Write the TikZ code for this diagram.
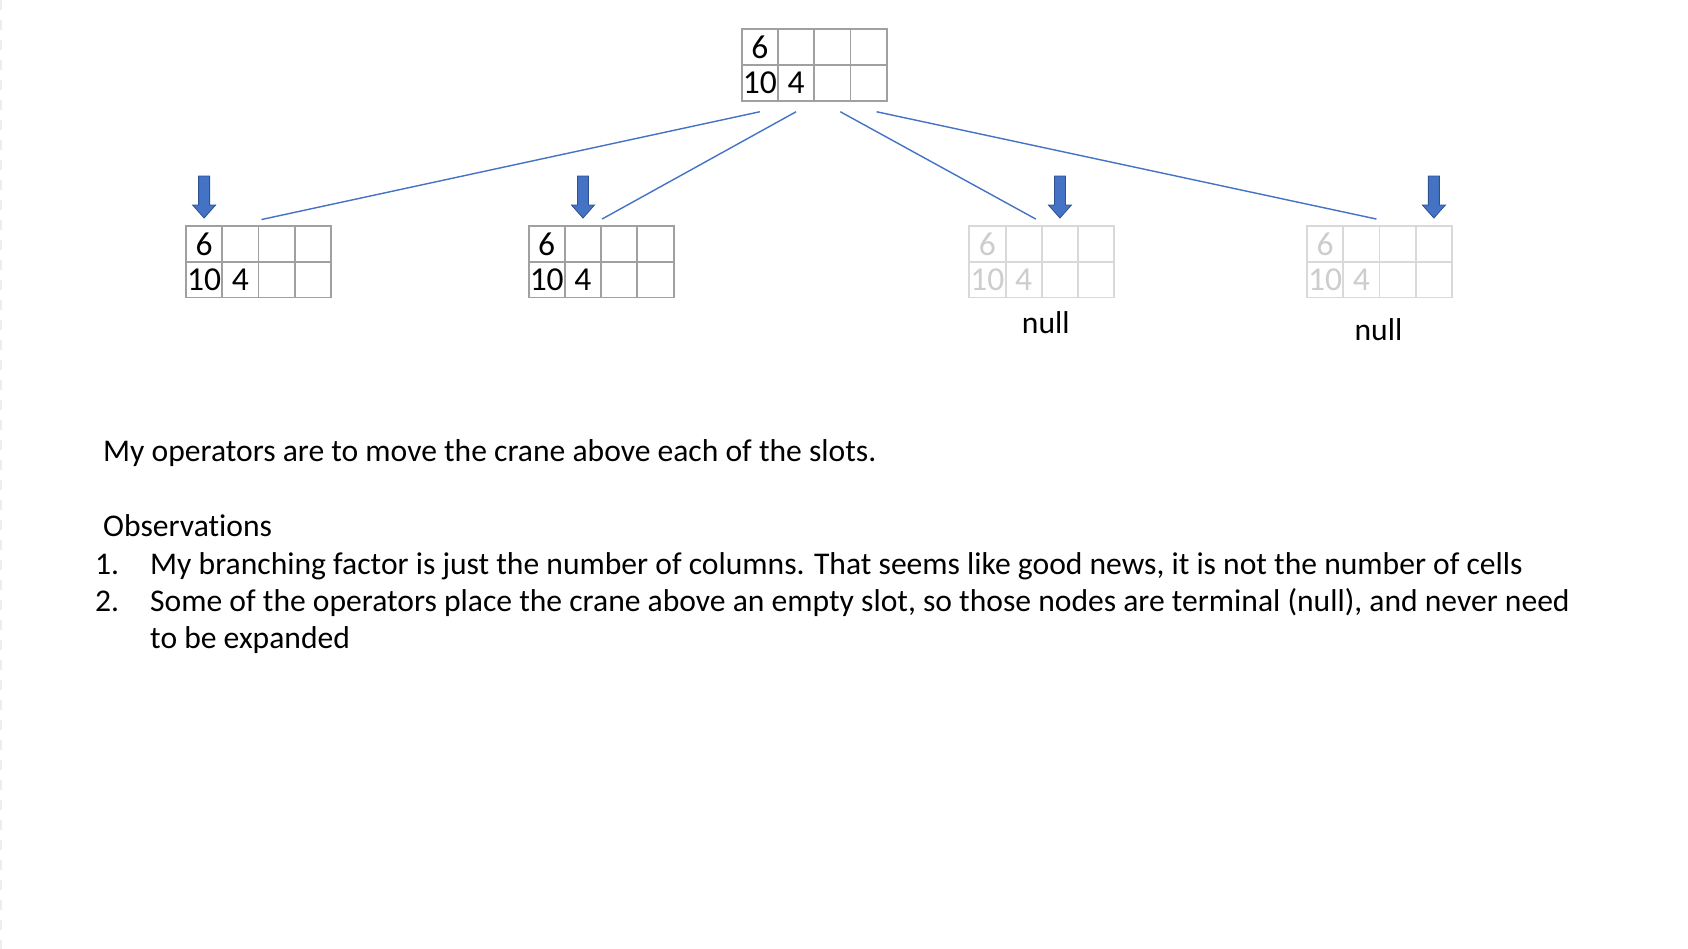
\documentclass[tikz,border=0pt]{standalone}
\usepackage{fontspec}
\setmainfont{Carlito}[Ligatures=NoCommon]
\usetikzlibrary{calc}
\definecolor{gridgray}{RGB}{160,160,160}
\definecolor{fadegray}{RGB}{217,217,217}
\definecolor{fadetext}{RGB}{205,205,205}
\definecolor{linkblue}{RGB}{68,114,196}
\definecolor{arrowedge}{RGB}{47,82,143}
\newcommand{\bigfont}{\fontsize{31.6}{37.5}\selectfont}
\newcommand{\cellfont}{\fontsize{33.5}{37.5}\selectfont}
\tikzset{
  cellbox/.style={draw=#1, line width=1.9pt, minimum width=36.25pt, minimum height=35.75pt,
    inner sep=0pt, anchor=center, font=\cellfont},
  link/.style={draw=linkblue, line width=1.4pt},
  crane/.style={fill=linkblue, draw=arrowedge, line width=0.8pt, line join=miter},
  txt/.style={inner sep=0pt, anchor=base west, font=\bigfont},
}
% name, left x, top y, grid colour, text colour
\newcommand{\cranegrid}[5]{%
  \node[cellbox=#4, text=#5] (#1-1-1) at ({#2+18.125},{#3+17.875}) {6};
  \node[cellbox=#4] (#1-1-2) at ({#2+54.375},{#3+17.875}) {};
  \node[cellbox=#4] (#1-1-3) at ({#2+90.625},{#3+17.875}) {};
  \node[cellbox=#4] (#1-1-4) at ({#2+126.875},{#3+17.875}) {};
  \node[cellbox=#4, text=#5] (#1-2-1) at ({#2+18.125},{#3+53.625}) {10};
  \node[cellbox=#4, text=#5] (#1-2-2) at ({#2+54.375},{#3+53.625}) {4};
  \node[cellbox=#4] (#1-2-3) at ({#2+90.625},{#3+53.625}) {};
  \node[cellbox=#4] (#1-2-4) at ({#2+126.875},{#3+53.625}) {};
}
% down arrow above the given cell
\newcommand{\cranearrow}[1]{%
  \draw[crane] ($(#1.north)+(0,-7)$) -- ++(11.5,-13) -- ++(-6,0) -- ++(0,-29)
    -- ++(-11,0) -- ++(0,29) -- ++(-6,0) -- cycle;
}
\begin{document}
\begin{tikzpicture}[x=1pt,y=-1pt]
\useasboundingbox (0,0) rectangle (1688,949);
\fill[white] (0,0) rectangle (1688,949);
\draw[black!7, line width=1.5pt, dash pattern=on 10pt off 10pt] (0.8,0) -- (0.8,949);

\cranegrid{top}{741.7}{29.3}{gridgray}{black}
\cranegrid{ca}{186}{226}{gridgray}{black}
\cranegrid{cb}{528.6}{226}{gridgray}{black}
\cranegrid{cc}{969.3}{226}{fadegray}{fadetext}
\cranegrid{cd}{1307}{226}{fadegray}{fadetext}

\cranearrow{ca-1-1}
\cranearrow{cb-1-2}
\cranearrow{cc-1-3}
\cranearrow{cd-1-4}

\coordinate (s1) at ($(top-2-1.south)+(0,10)$);
\coordinate (s2) at ($(top-2-2.south)+(0,10)$);
\coordinate (s3) at ($(top-2-3.south)+(8,10)$);
\coordinate (s4) at ($(top-2-4.south)+(8,10)$);
\coordinate (e1) at ($(ca-1-2.north east)+(2,-5.5)$);
\coordinate (e2) at ($(cb-1-2.north east)+(0,-6)$);
\coordinate (e3) at ($(cc-1-2.north east)+(-7,-6)$);
\coordinate (e4) at ($(cd-1-2.north east)+(-4,-6)$);
\draw[link] (s1) -- (e1);
\draw[link] (s2) -- (e2);
\draw[link] (s3) -- (e3);
\draw[link] (s4) -- (e4);

\node[txt, anchor=base] (null1) at ($(cc-2-2.south east)+(3,35)$) {null};
\node[txt, anchor=base] (null2) at ($(cd-2-2.south east)+(-2,42)$) {null};

\node[txt] (intro) at (103,461) {My operators are to move the crane above each of the slots.};
\node[txt] (obs) at (103,536) {Observations};
\node[txt] (n1) at (95,574) {1.};
\node[txt] (t1) at (150,574) {My branching factor is just the number of columns. That seems like good news, it is not the number of cells};
\node[txt] (n2) at (95,611) {2.};
\node[txt] (t2) at (150,611) {Some of the operators place the crane above an empty slot, so those nodes are terminal (null), and never need};
\node[txt] (t3) at (150,648) {to be expanded};
\end{tikzpicture}
\end{document}
